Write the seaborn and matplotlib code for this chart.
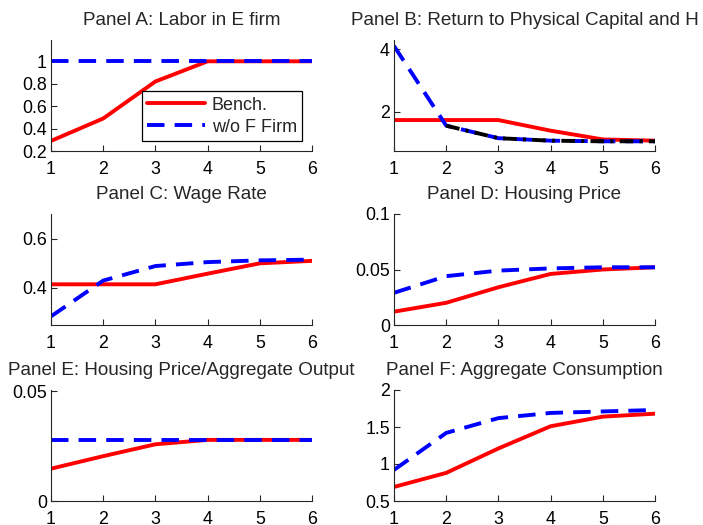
import matplotlib
matplotlib.use("Agg")
import matplotlib.pyplot as plt
import seaborn as sns
import pandas as pd
import numpy as np

# ---------------- data ----------------
periods = [1, 2, 3, 4, 5, 6]

labor_bench = [0.29, 0.49, 0.82, 1.00, 1.00, 1.00]
labor_nof = [1.00, 1.00, 1.00, 1.00, 1.00, 1.00]

ret_bench = [1.74, 1.74, 1.74, 1.40, 1.12, 1.08]
ret_nof = [4.11, 1.56, 1.16, 1.08, 1.06, 1.06]
ret_black = [np.nan, 1.56, 1.16, 1.08, 1.06, 1.06]

wage_bench = [0.415, 0.415, 0.415, 0.458, 0.500, 0.510]
wage_nof = [0.285, 0.430, 0.489, 0.505, 0.512, 0.515]

hp_bench = [0.012, 0.020, 0.034, 0.046, 0.050, 0.052]
hp_nof = [0.029, 0.044, 0.049, 0.051, 0.052, 0.052]

hpy_bench = [0.0147, 0.0204, 0.0258, 0.0278, 0.0278, 0.0278]
hpy_nof = [0.0278, 0.0278, 0.0278, 0.0278, 0.0278, 0.0278]

cons_bench = [0.69, 0.88, 1.21, 1.51, 1.64, 1.68]
cons_nof = [0.92, 1.42, 1.62, 1.69, 1.71, 1.73]

titles = ["Panel A: Labor in E firm",
          "Panel B: Return to Physical Capital and H",
          "Panel C: Wage Rate",
          "Panel D: Housing Price",
          "Panel E: Housing Price/Aggregate Output",
          "Panel F: Aggregate Consumption"]
series_labels = ["Bench.", "w/o F Firm"]
xticks = [1, 2, 3, 4, 5, 6]
yticks = [[0.2, 0.4, 0.6, 0.8, 1], [2, 4], [0.4, 0.6], [0, 0.05, 0.1], [0, 0.05], [0.5, 1, 1.5, 2]]
yticklabels = [["0.2", "0.4", "0.6", "0.8", "1"], ["2", "4"], ["0.4", "0.6"],
               ["0", "0.05", "0.1"], ["0", "0.05"], ["0.5", "1", "1.5", "2"]]
ylims = [(0.2, 1.19), (0.75, 4.3), (0.25, 0.70), (0, 0.1), (0, 0.0505), (0.5, 2.0)]

bench_all = [labor_bench, ret_bench, wage_bench, hp_bench, hpy_bench, cons_bench]
nof_all = [labor_nof, ret_nof, wage_nof, hp_nof, hpy_nof, cons_nof]

# ---------------- style ----------------
sns.set_style("ticks")
plt.rcParams["font.family"] = ["Liberation Sans", "DejaVu Sans"]
plt.rcParams["xtick.direction"] = "in"
plt.rcParams["ytick.direction"] = "in"
axcol = "#262626"

fig = plt.figure(figsize=(7.03, 5.25), dpi=100)
lefts = [51 / 703, 394 / 703]
bottoms = [1 - 151 / 525, 1 - 325 / 525, 1 - 501 / 525]
w = 261 / 703
h = 111 / 525

LW = 2.8
for i in range(6):
    r, c = divmod(i, 2)
    ax = fig.add_axes([lefts[c], bottoms[r], w, h])
    sns.lineplot(x=periods, y=bench_all[i], ax=ax, color="#ff0000", lw=LW,
                 label=series_labels[0], legend=False)
    sns.lineplot(x=periods, y=nof_all[i], ax=ax, color="#0000ff", lw=LW,
                 label=series_labels[1], legend=False)
    ax.lines[-1].set_dashes((4.5, 2.6))
    if i == 1:
        sns.lineplot(x=periods, y=ret_black, ax=ax, color="black", lw=LW, legend=False)
        ax.lines[-1].set_dashes((3.5, 1.6, 0.8, 1.6))
    ax.set_xlim(1, 6)
    ax.set_ylim(*ylims[i])
    ax.set_xticks(xticks)
    ax.set_xticklabels([str(t) for t in xticks])
    ax.set_yticks(yticks[i])
    ax.set_yticklabels(yticklabels[i])
    ax.tick_params(labelsize=12.8, colors="black", length=4, width=0.8)
    ax.tick_params(axis="x", pad=7.5)
    ax.tick_params(axis="y", pad=3)
    ax.tick_params(axis="both", color=axcol)
    for s in ["top", "right"]:
        ax.spines[s].set_visible(False)
    for s in ["left", "bottom"]:
        ax.spines[s].set_color(axcol)
        ax.spines[s].set_linewidth(0.8)
    ax.set_title(titles[i], fontsize=13.6, pad=11)
    ax.set_xlabel("")
    ax.set_ylabel("")
    if i == 0:
        leg = ax.legend(handles=ax.lines[:2], labels=series_labels, loc="lower right",
                        bbox_to_anchor=(0.962, 0.09), fontsize=13, frameon=True,
                        fancybox=False, edgecolor="black", framealpha=1,
                        handlelength=3.2, borderpad=0.3, labelspacing=0.28,
                        handletextpad=0.35, borderaxespad=0)
        leg.get_frame().set_linewidth(0.9)

fig.savefig("out.png", dpi=100)
